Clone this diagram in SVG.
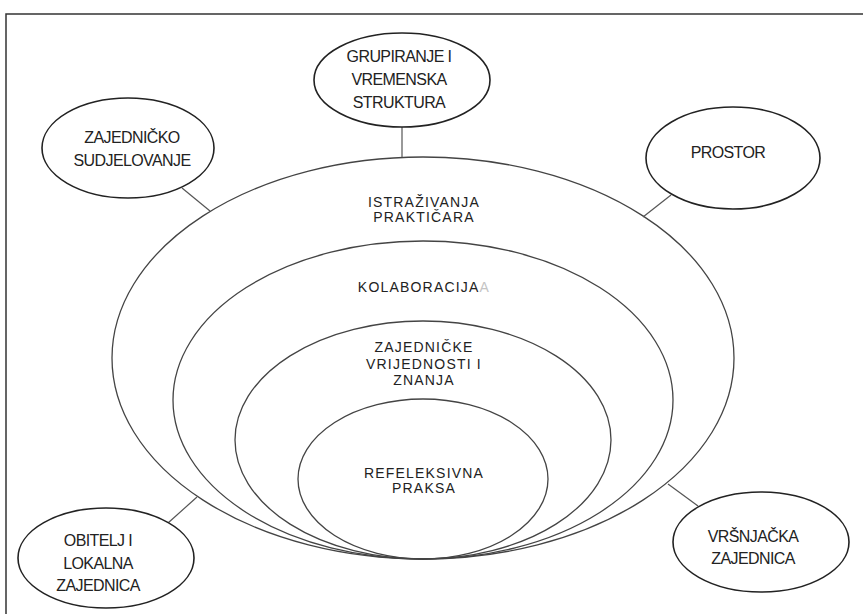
<svg xmlns="http://www.w3.org/2000/svg" width="863" height="614" viewBox="0 0 863 614">
<style>
.frame{fill:none;stroke:#333;stroke-width:1.5}
.node{fill:#fff;stroke:#222;stroke-width:1.6}
.ring{fill:none;stroke:#444;stroke-width:1.3}
.conn{stroke:#555;stroke-width:1.2}
.nt{font-family:"Liberation Sans",Arial,sans-serif;font-size:16px;fill:#222;text-anchor:middle;letter-spacing:-0.6px}
.rt{font-family:"Liberation Sans",Arial,sans-serif;font-size:14px;fill:#222;text-anchor:middle;letter-spacing:1.2px}
</style>
<rect class="frame" x="6" y="14" width="870" height="620"/>
<g id="rings">
<g id="istrazivanja">
<ellipse class="ring" cx="423" cy="358" rx="311" ry="201"/>
<text class="rt" x="424" y="207">ISTRAŽIVANJA</text>
<text class="rt" x="424" y="222">PRAKTIČARA</text>
</g>
<g id="kolaboracija">
<ellipse class="ring" cx="423" cy="400" rx="250" ry="159"/>
<text class="rt" x="424" y="292">KOLABORACIJA<tspan fill="#c4c4c4">A</tspan></text>
</g>
<g id="vrijednosti">
<ellipse class="ring" cx="423" cy="440" rx="188" ry="119"/>
<text class="rt" x="424" y="352">ZAJEDNIČKE</text>
<text class="rt" x="424" y="369">VRIJEDNOSTI I</text>
<text class="rt" x="424" y="385">ZNANJA</text>
</g>
<g id="refleksivna">
<ellipse class="ring" cx="423" cy="479" rx="125" ry="80"/>
<text class="rt" x="424" y="478">REFELEKSIVNA</text>
<text class="rt" x="424" y="493">PRAKSA</text>
</g>
</g>
<g id="connectors">
<line class="conn" x1="402" y1="127" x2="402" y2="157"/>
<line class="conn" x1="182" y1="188" x2="210" y2="211"/>
<line class="conn" x1="671" y1="195" x2="643" y2="217"/>
<line class="conn" x1="168" y1="523" x2="197" y2="497"/>
<line class="conn" x1="668" y1="484" x2="698" y2="506"/>
</g>
<g id="grupiranje">
<ellipse class="node" cx="402" cy="80" rx="88" ry="47"/>
<text class="nt" x="399" y="62">GRUPIRANJE I</text>
<text class="nt" x="399" y="85">VREMENSKA</text>
<text class="nt" x="399" y="108">STRUKTURA</text>
</g>
<g id="zajednicko">
<ellipse class="node" cx="128" cy="148" rx="86" ry="50"/>
<text class="nt" x="132" y="143">ZAJEDNIČKO</text>
<text class="nt" x="132" y="166">SUDJELOVANJE</text>
</g>
<g id="prostor">
<ellipse class="node" cx="733" cy="158" rx="87" ry="51"/>
<text class="nt" x="728" y="158">PROSTOR</text>
</g>
<g id="obitelj">
<ellipse class="node" cx="106" cy="558" rx="88" ry="50"/>
<text class="nt" x="98" y="546">OBITELJ I</text>
<text class="nt" x="98" y="569">LOKALNA</text>
<text class="nt" x="98" y="591">ZAJEDNICA</text>
</g>
<g id="vrsnjacka">
<ellipse class="node" cx="761" cy="542" rx="88" ry="50"/>
<text class="nt" x="753" y="542">VRŠNJAČKA</text>
<text class="nt" x="753" y="564">ZAJEDNICA</text>
</g>
</svg>
